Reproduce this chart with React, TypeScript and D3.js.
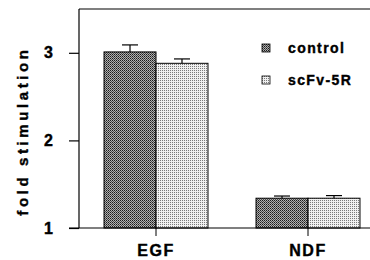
import React, { useEffect, useRef } from "react";
import * as d3 from "d3";

const categories = ["EGF", "NDF"];
const seriesNames = ["control", "scFv-5R"];
const controlValues = [3.01, 1.34];
const controlErrors = [0.08, 0.025];
const scfvValues = [2.88, 1.34];
const scfvErrors = [0.05, 0.03];
const yTicks = [1, 2, 3];

export default function App() {
  const ref = useRef<SVGSVGElement>(null);

  useEffect(() => {
    const svg = d3.select(ref.current);
    svg.selectAll("*").remove();
    const font = "Arial, 'Liberation Sans', sans-serif";

    const defs = svg.append("defs");
    // dark dotted pattern for control
    const p1 = defs.append("pattern").attr("id", "patCtrl").attr("width", 2).attr("height", 2)
      .attr("patternUnits", "userSpaceOnUse");
    p1.append("rect").attr("width", 2).attr("height", 2).attr("fill", "#b0b0b0");
    p1.append("rect").attr("width", 1).attr("height", 1).attr("fill", "#1a1a1a");
    p1.append("rect").attr("x", 1).attr("y", 1).attr("width", 1).attr("height", 1).attr("fill", "#4a4a4a");
    // light dotted pattern for scFv
    const p2 = defs.append("pattern").attr("id", "patScfv").attr("width", 2).attr("height", 2)
      .attr("patternUnits", "userSpaceOnUse");
    p2.append("rect").attr("width", 2).attr("height", 2).attr("fill", "#f0f0f0");
    p2.append("rect").attr("width", 1).attr("height", 1).attr("fill", "#7a7a7a");

    const left = 79, right = 370, top = 9, bottom = 228;
    const y = d3.scaleLinear().domain([1, 3.5]).range([bottom, top]);
    const x0 = d3.scaleBand().domain(categories).range([80, 384]).paddingInner(0.316).paddingOuter(0.158);
    const x1 = d3.scaleBand().domain(seriesNames).range([0, x0.bandwidth()]);

    const fills = ["url(#patCtrl)", "url(#patScfv)"];
    const vals = [controlValues, scfvValues];
    const errs = [controlErrors, scfvErrors];

    // frame
    svg.append("line").attr("x1", left).attr("x2", right).attr("y1", top).attr("y2", top)
      .attr("stroke", "#000").attr("stroke-width", 1.2);
    svg.append("line").attr("x1", left).attr("x2", left).attr("y1", top).attr("y2", bottom)
      .attr("stroke", "#000").attr("stroke-width", 1.2);

    const yAxis = d3.axisLeft(y).tickValues(yTicks).tickSize(10).tickPadding(16).tickFormat(d3.format("d"));
    const gy = svg.append("g").attr("transform", `translate(${left},0)`).call(yAxis);
    gy.select(".domain").remove();
    gy.selectAll("line").attr("stroke", "#000").attr("stroke-width", 1.2);
    gy.selectAll("text").attr("font-family", font).attr("font-weight", "bold").attr("font-size", 16)
      .attr("fill", "#000").attr("stroke", "#000").attr("stroke-width", 0.4);

    seriesNames.forEach((s, si) => {
      const g = svg.append("g");
      g.selectAll("rect").data(categories).enter().append("rect")
        .attr("x", (c) => x0(c)! + x1(s)!)
        .attr("y", (_, i) => y(vals[si][i]))
        .attr("width", x1.bandwidth())
        .attr("height", (_, i) => bottom - y(vals[si][i]))
        .attr("fill", fills[si]).attr("stroke", "#000").attr("stroke-width", 1);
      categories.forEach((c, i) => {
        const cx = x0(c)! + x1(s)! + x1.bandwidth() / 2;
        const yt = y(vals[si][i] + errs[si][i]);
        g.append("line").attr("x1", cx).attr("x2", cx).attr("y1", y(vals[si][i])).attr("y2", yt)
          .attr("stroke", "#000").attr("stroke-width", 1.2);
        g.append("line").attr("x1", cx - 8).attr("x2", cx + 8).attr("y1", yt).attr("y2", yt)
          .attr("stroke", "#000").attr("stroke-width", 1.2);
      });
    });

    // bottom axis
    svg.append("line").attr("x1", 69).attr("x2", right).attr("y1", bottom).attr("y2", bottom)
      .attr("stroke", "#000").attr("stroke-width", 1.2);
    const xAxis = d3.axisBottom(x0).tickSize(8).tickPadding(9);
    const gx = svg.append("g").attr("transform", `translate(0,${bottom})`).call(xAxis);
    gx.select(".domain").remove();
    gx.selectAll("line").attr("stroke", "#000").attr("stroke-width", 1);
    gx.selectAll("text").attr("font-family", font).attr("font-weight", "bold").attr("font-size", 16)
      .attr("fill", "#000").attr("letter-spacing", 1.5).attr("stroke", "#000").attr("stroke-width", 0.4);

    // y title
    svg.append("text").attr("transform", `translate(28,131) rotate(-90)`)
      .attr("text-anchor", "middle").attr("font-family", font).attr("font-weight", "bold")
      .attr("font-size", 15).attr("letter-spacing", 3.6).attr("stroke", "#000").attr("stroke-width", 0.4)
      .text("fold stimulation");

    // legend
    seriesNames.forEach((s, i) => {
      const ly = 48 + i * 32;
      svg.append("rect").attr("x", 262).attr("y", ly - 4).attr("width", 8).attr("height", 8)
        .attr("fill", fills[i]).attr("stroke", "#000").attr("stroke-width", 0.8);
      svg.append("text").attr("x", 288).attr("y", ly + 5).attr("font-family", font)
        .attr("font-weight", "bold").attr("font-size", 14).attr("letter-spacing", 1.4)
        .attr("stroke", "#000").attr("stroke-width", 0.4).text(s);
    });
  }, []);

  return (
    <svg ref={ref} width={370} height={260} style={{ position: "absolute", left: 0, top: 0, background: "#fff" }} />
  );
}
